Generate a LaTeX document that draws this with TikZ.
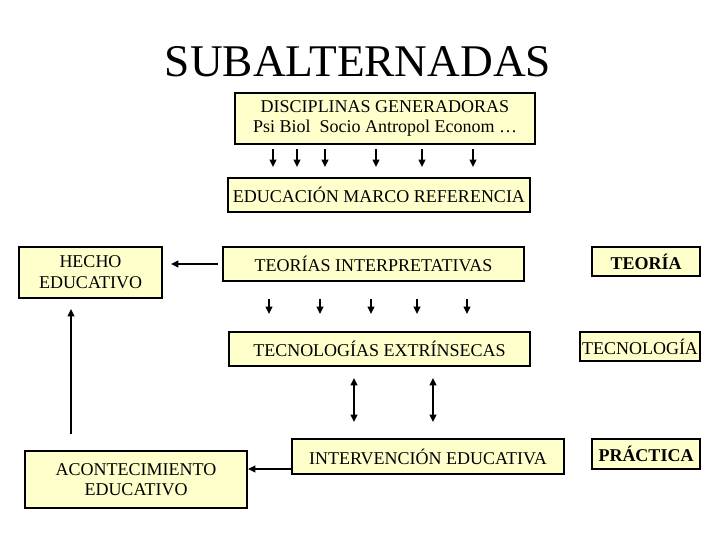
\documentclass[tikz,border=0pt]{standalone}
\usepackage{fontspec}
\setmainfont{Liberation Serif}
\usetikzlibrary{arrows.meta,calc}
\definecolor{boxfill}{HTML}{FFFFCC}
\begin{document}
\begin{tikzpicture}[x=0.75pt,y=-0.75pt,
  box/.style={draw=black,line width=1.5pt,fill=boxfill,inner sep=0pt,align=center,
    font=\fontsize{13.5}{15.5}\selectfont},
  arr/.style={line width=1.8pt,-{Triangle[length=5.5pt,width=5pt]}},
  darr/.style={line width=1.8pt,{Triangle[length=5.5pt,width=5pt]}-{Triangle[length=5.5pt,width=5pt]}}]
\useasboundingbox (0,0) rectangle (720,540);
\node (title) at (358,62) {\fontsize{34}{40}\selectfont SUBALTERNADAS};
\node[box,minimum width=225pt,minimum height=38.25pt] (disc) at (385,118.5)
  {\raisebox{-3pt}{\begin{tabular}{@{}c@{}}DISCIPLINAS GENERADORAS\\[-1pt]Psi Biol\enspace Socio Antropol Econom …\end{tabular}}};
\node[box,minimum width=226.5pt,minimum height=25.5pt] (edu) at (379,195) {EDUCACIÓN MARCO REFERENCIA};
\node[box,minimum width=107.25pt,minimum height=38.25pt] (hecho) at (90.5,272.5) {HECHO\\EDUCATIVO};
\node[box,minimum width=225.75pt,minimum height=25.5pt] (teorias) at (373.5,264) {TEORÍAS INTERPRETATIVAS};
\node[box,minimum width=81pt,minimum height=21.75pt,font=\fontsize{13.5}{15.5}\selectfont\bfseries] (teoria) at (646,261.5) {TEORÍA};
\node[box,minimum width=225.75pt,minimum height=25.5pt] (tecs) at (379.5,349) {TECNOLOGÍAS EXTRÍNSECAS};
\node[box,minimum width=90pt,minimum height=21.75pt] (tec) at (640,346.5) {TECNOLOGÍA};
\node[box,minimum width=204pt,minimum height=26.25pt] (interv) at (428,456.5) {INTERVENCIÓN EDUCATIVA};
\node[box,minimum width=81pt,minimum height=22.5pt,font=\fontsize{13.5}{15.5}\selectfont\bfseries] (practica) at (646,454) {PRÁCTICA};
\node[box,minimum width=166.5pt,minimum height=42.75pt] (acont) at (136,479.5) {ACONTECIMIENTO\\EDUCATIVO};
\foreach \x in {273,297,325,376,422,473}
  \draw[arr,shorten <=3pt,shorten >=7.5pt] (\x,0 |- disc.south) -- (\x,0 |- edu.north);
\foreach \x in {269,320,371,417,467}
  \draw[arr,shorten <=12.75pt,shorten >=12.75pt] (\x,0 |- teorias.south) -- (\x,0 |- tecs.north);
\foreach \x in {354,433}
  \draw[darr,shorten <=8.25pt,shorten >=12pt] (\x,0 |- tecs.south) -- (\x,0 |- interv.north);
\draw[arr,shorten <=3pt,shorten >=6pt] (teorias.west) -- (teorias.west -| hecho.east);
\coordinate (up1) at ($(acont.north)+(-65,0)$);
\coordinate (up2) at ($(hecho.south)+(-19.5,0)$);
\draw[arr,shorten <=12pt,shorten >=7.5pt] (up1) -- (up2);
\coordinate (ia) at ($(interv.south west)+(0,-6)$);
\draw[arr] (ia) -- (ia -| acont.east);
\end{tikzpicture}
\end{document}
